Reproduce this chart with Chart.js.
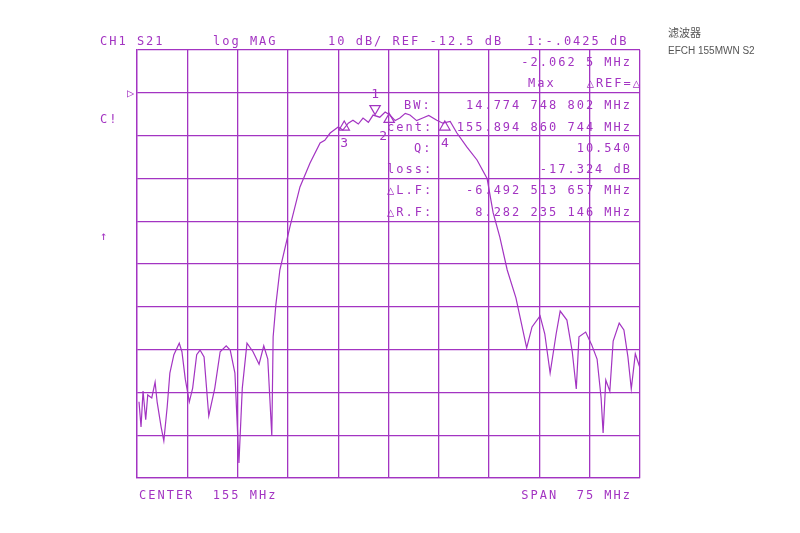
<!DOCTYPE html><html><head><meta charset="utf-8">
<script src="https://cdn.jsdelivr.net/npm/chart.js@4"></script>
<style>body{margin:0;background:#fff}</style></head><body>
<canvas id="c" width="800" height="533"></canvas>
<script>
const freqMHz=[117.8,118.1,118.4,118.8,119.1,119.7,120.2,120.5,121.1,121.5,122.0,122.4,123.0,123.8,124.2,124.7,125.3,125.8,126.4,126.9,127.5,128.2,129.1,129.9,130.8,131.4,132.1,132.7,133.2,133.9,134.8,135.7,136.4,137.0,137.6,137.8,138.2,138.8,140.3,141.8,143.3,144.8,145.5,146.3,147.5,148.2,149.0,149.7,150.5,151.2,152.0,152.7,153.7,154.5,155.2,156.0,156.7,157.5,158.2,159.2,160.1,161.0,162.2,163.1,164.2,165.2,166.7,168.2,169.7,170.6,171.6,172.7,174.0,175.6,176.4,177.6,178.3,179.1,180.0,180.6,181.6,182.4,183.0,183.4,184.4,185.3,186.1,186.7,187.0,187.4,188.0,188.5,189.4,190.1,190.7,191.2,191.8,192.5];
const s21dB=[-84.7,-90.6,-82.2,-88.9,-83.1,-83.8,-80.1,-84.7,-90.6,-93.8,-85.9,-78.0,-73.7,-71.0,-73.0,-79.4,-84.7,-81.5,-73.7,-72.6,-74.2,-88.0,-81.5,-73.0,-71.6,-72.6,-78.0,-99.0,-81.5,-71.0,-73.0,-75.9,-71.6,-74.7,-92.7,-69.5,-62.1,-53.9,-43.8,-34.5,-28.9,-24.2,-23.6,-21.9,-20.5,-21.2,-19.6,-18.9,-19.8,-18.4,-19.4,-17.7,-18.2,-17.0,-17.7,-19.0,-18.4,-17.3,-17.7,-19.0,-18.4,-17.8,-18.9,-19.6,-19.2,-21.9,-25.2,-28.2,-32.5,-40.5,-46.2,-53.9,-60.4,-72.1,-67.2,-64.6,-68.8,-78.0,-68.8,-63.5,-65.6,-73.0,-81.7,-69.5,-68.4,-71.4,-74.7,-83.8,-92.0,-79.6,-82.2,-70.5,-66.3,-67.9,-74.2,-81.7,-73.5,-76.8];
const markerLabels=["1","2","3","4"];
const markerFreq=[153.0,155.1,148.4,163.4];
const markerDB=[-16.2,-18.7,-20.5,-20.5];
const markerRot=[180,0,0,0];
const C='#a334c2';
const txt=[
 ["CH1 S21",100,42,'left'],["log MAG",213,42,'left'],["10 dB/ REF -12.5 dB",328,42,'left'],["1:-.0425 dB",527,42,'left'],
 ["-2.062 5 MHz",630,63,'right'],["Max",528,84,'left'],["\u25B3REF=\u25B3",640,84,'right'],
 ["BW:",404,106,'left'],["14.774 748 802 MHz",630,106,'right'],
 ["cent:",387,128,'left'],["155.894 860 744 MHz",630,128,'right'],
 ["Q:",414,149,'left'],["10.540",630,149,'right'],
 ["loss:",387,170,'left'],["-17.324 dB",630,170,'right'],
 ["\u25B3L.F:",387,191,'left'],["-6.492 513 657 MHz",630,191,'right'],
 ["\u25B3R.F:",387,213,'left'],["8.282 235 146 MHz",630,213,'right'],
 ["C!",100,120,'left'],["\u2191",100,237,'left'],["\u25B7",127,94,'left'],
 ["CENTER  155 MHz",139,496,'left'],["SPAN  75 MHz",630,496,'right']
];
const textPlugin={id:'t',afterDraw(ch){const g=ch.ctx;g.save();g.fillStyle=C;g.textBaseline='middle';
 g.font='12px "DejaVu Sans Mono"';g.letterSpacing='2px';
 for(const [s,x,y,a] of txt){g.textAlign=a;g.fillText(s,a==='right'?x+2:x,y);}
 g.letterSpacing='0px';
 const xs=ch.scales.x,ys=ch.scales.y;
 markerLabels.forEach((l,i)=>{const px=xs.getPixelForValue(markerFreq[i]),py=ys.getPixelForValue(markerDB[i]);
  g.font='13px "DejaVu Sans Mono"';g.textAlign='center';
  if(i===0)g.fillText(l,px,py-14);else g.fillText(l,px+(i===1?-6:0),py+17);});
 g.fillStyle='#555';g.font='11px "Noto Sans CJK SC"';g.textAlign='left';
 g.fillText('滤波器',668,33);g.font='10px "Liberation Sans"';g.fillText('EFCH 155MWN S2',668,51);
 g.restore();}};
new Chart(document.getElementById('c'),{type:'scatter',
 data:{datasets:[
  {data:freqMHz.map((f,i)=>({x:f,y:s21dB[i]})),showLine:true,borderColor:C,borderWidth:1.2,pointRadius:0,tension:0},
  {data:markerFreq.map((f,i)=>({x:f,y:markerDB[i]})),pointStyle:'triangle',pointRadius:6,rotation:markerRot,borderColor:C,backgroundColor:'rgba(0,0,0,0)',borderWidth:1.2,showLine:false}
 ]},
 options:{responsive:false,animation:false,layout:{padding:{left:137,right:160,top:50,bottom:55}},
  plugins:{legend:{display:false},tooltip:{enabled:false}},
  scales:{x:{type:'linear',min:117.5,max:192.5,afterBuildTicks:a=>{a.ticks=Array.from({length:11},(_,i)=>({value:117.5+7.5*i}))},
     ticks:{display:false},grid:{color:C,lineWidth:1.3,drawTicks:false},border:{color:C,width:1.3}},
   y:{min:-102.5,max:-2.5,afterBuildTicks:a=>{a.ticks=Array.from({length:11},(_,i)=>({value:-102.5+10*i}))},
     ticks:{display:false},grid:{color:C,lineWidth:1.3,drawTicks:false},border:{color:C,width:1.3}}}},
 plugins:[textPlugin]});
</script></body></html>
